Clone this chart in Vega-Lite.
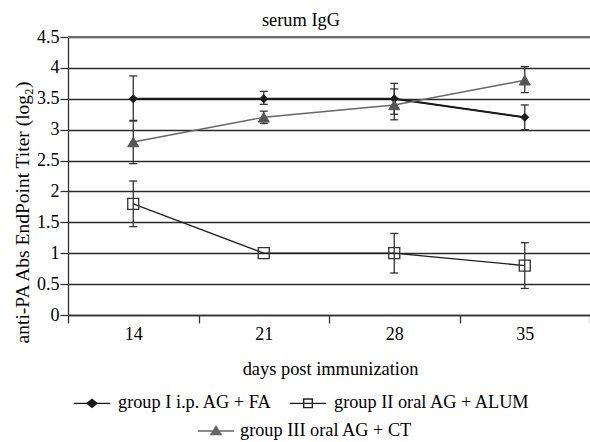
{
  "$schema": "https://vega.github.io/schema/vega-lite/v6.json",
  "width": 522,
  "height": 278,
  "autosize": {"type": "none"},
  "padding": {"left": 68, "top": 37, "right": 0, "bottom": 127},
  "background": "white",
  "config": {
    "view": {"stroke": null},
    "font": "Liberation Serif"
  },
  "title": {
    "text": "serum IgG",
    "font": "Liberation Serif",
    "fontSize": 18.4,
    "fontWeight": "normal",
    "color": "#000",
    "anchor": "middle",
    "frame": "group",
    "baseline": "alphabetic",
    "offset": 12,
    "dx": -28,
    "dy": 28
  },
  "data": {
    "values": [
      {"group": "group I i.p. AG + FA", "day": "14", "value": 3.5, "lo": 3.15, "hi": 3.87},
      {"group": "group I i.p. AG + FA", "day": "21", "value": 3.5, "lo": 3.41, "hi": 3.62},
      {"group": "group I i.p. AG + FA", "day": "28", "value": 3.5, "lo": 3.25, "hi": 3.75},
      {"group": "group I i.p. AG + FA", "day": "35", "value": 3.2, "lo": 3.0, "hi": 3.4},
      {"group": "group II oral AG + ALUM", "day": "14", "value": 1.8, "lo": 1.43, "hi": 2.17},
      {"group": "group II oral AG + ALUM", "day": "21", "value": 1.0, "lo": null, "hi": null},
      {"group": "group II oral AG + ALUM", "day": "28", "value": 1.0, "lo": 0.68, "hi": 1.32},
      {"group": "group II oral AG + ALUM", "day": "35", "value": 0.8, "lo": 0.43, "hi": 1.17},
      {"group": "group III oral AG + CT", "day": "14", "value": 2.8, "lo": 2.45, "hi": 3.14},
      {"group": "group III oral AG + CT", "day": "21", "value": 3.2, "lo": 3.1, "hi": 3.3},
      {"group": "group III oral AG + CT", "day": "28", "value": 3.4, "lo": 3.16, "hi": 3.66},
      {"group": "group III oral AG + CT", "day": "35", "value": 3.8, "lo": 3.6, "hi": 4.02}
    ]
  },
  "encoding": {
    "x": {
      "field": "day",
      "type": "ordinal",
      "scale": {"type": "band", "paddingInner": 0, "paddingOuter": 0},
      "axis": {
        "title": "days post immunization",
        "labelAngle": 0,
        "tickBand": "extent",
        "domainColor": "#333",
        "domainWidth": 1.3,
        "tickColor": "#333",
        "tickWidth": 1.3,
        "tickSize": 8,
        "labelFont": "Liberation Serif",
        "labelFontSize": 18,
        "labelColor": "#000",
        "labelPadding": 2,
        "titleFont": "Liberation Serif",
        "titleFontSize": 18.4,
        "titleFontWeight": "normal",
        "titleColor": "#000",
        "titleX": 262,
        "titleY": 53,
        "titleAlign": "center",
        "titleBaseline": "middle",
        "grid": false
      }
    },
    "y": {
      "field": "value",
      "type": "quantitative",
      "scale": {"domain": [0, 4.5], "nice": false, "zero": true},
      "axis": {
        "title": "anti-PA Abs EndPoint Titer (log₂)",
        "values": [0, 0.5, 1, 1.5, 2, 2.5, 3, 3.5, 4, 4.5],
        "format": "~g",
        "grid": true,
        "gridColor": "#2a2a2a",
        "gridWidth": 1.3,
        "domainColor": "#333",
        "domainWidth": 1.3,
        "tickColor": "#333",
        "tickWidth": 1.3,
        "tickSize": 8,
        "labelFont": "Liberation Serif",
        "labelFontSize": 18,
        "labelColor": "#000",
        "labelPadding": 1,
        "titleFont": "Liberation Serif",
        "titleFontSize": 19.5,
        "titleFontWeight": "normal",
        "titleColor": "#000",
        "titleX": -46,
        "titleY": 175,
        "titleAngle": -90,
        "titleAlign": "center",
        "titleBaseline": "middle"
      }
    }
  },
  "layer": [
    {
      "mark": {"type": "rule", "color": "#6e6e6e", "strokeWidth": 2},
      "encoding": {"y": {"datum": 4.5}, "x": null}
    },
    {
      "transform": [{"filter": "datum.lo != null"}],
      "mark": {"type": "rule", "color": "#333", "strokeWidth": 1.3},
      "encoding": {
        "y": {"field": "lo", "type": "quantitative"},
        "y2": {"field": "hi"}
      }
    },
    {
      "transform": [{"filter": "datum.lo != null"}],
      "mark": {"type": "tick", "color": "#333", "size": 8, "thickness": 1.3, "opacity": 1},
      "encoding": {"y": {"field": "lo", "type": "quantitative"}}
    },
    {
      "transform": [{"filter": "datum.hi != null"}],
      "mark": {"type": "tick", "color": "#333", "size": 8, "thickness": 1.3, "opacity": 1},
      "encoding": {"y": {"field": "hi", "type": "quantitative"}}
    },
    {
      "transform": [{"filter": "datum.group !== 'group III oral AG + CT'"}],
      "mark": {"type": "line", "strokeWidth": 1.3},
      "encoding": {
        "color": {
          "field": "group",
          "type": "nominal",
          "scale": {"domain": ["group I i.p. AG + FA", "group II oral AG + ALUM"], "range": ["#1a1a1a", "#222222"]},
          "legend": {
            "orient": "none",
            "legendX": 5,
            "legendY": 347,
            "direction": "horizontal",
            "title": null,
            "labelFont": "Liberation Serif",
            "labelFontSize": 18.3,
            "labelColor": "#000",
            "labelOffset": 7,
            "labelLimit": 400,
            "columnPadding": 15,
            "symbolSize": 1296,
            "encode": {
              "symbols": {
                "update": {
                  "shape": {"signal": "datum.value === 'group I i.p. AG + FA' ? 'M-1,0H1M-0.28,0L0,-0.22L0.28,0L0,0.22ZM-0.17,0L0,-0.13L0.17,0L0,0.13ZM-0.07,0L0,-0.05L0.07,0L0,0.05Z' : 'M-1,0H1M-0.24,-0.24H0.24V0.24H-0.24Z'"},
                  "fill": {"signal": "datum.value === 'group I i.p. AG + FA' ? '#111111' : 'transparent'"},
                  "strokeWidth": {"value": 1.4},
                  "size": {"value": 1296},
                  "opacity": {"value": 1}
                }
              }
            }
          }
        }
      }
    },
    {
      "transform": [{"filter": "datum.group === 'group I i.p. AG + FA'"}],
      "mark": {"type": "line", "strokeWidth": 2, "color": "#1a1a1a"},
      "encoding": {}
    },
    {
      "transform": [{"filter": "datum.group === 'group III oral AG + CT'"}],
      "mark": {"type": "line", "strokeWidth": 1.4},
      "encoding": {
        "color": {
          "field": "group",
          "type": "nominal",
          "scale": {"domain": ["group III oral AG + CT"], "range": ["#666666"]},
          "legend": {
            "orient": "none",
            "legendX": 129,
            "legendY": 375,
            "title": null,
            "labelFont": "Liberation Serif",
            "labelFontSize": 18.3,
            "labelColor": "#000",
            "labelOffset": 5,
            "labelLimit": 400,
            "symbolSize": 1296,
            "encode": {
              "symbols": {
                "update": {
                  "shape": {"value": "M-1,0H1M-0.28,0.2L0,-0.26L0.28,0.2ZM-0.16,0.12L0,-0.12L0.16,0.12ZM-0.06,0.08L0,-0.02L0.06,0.08Z"},
                  "fill": {"value": "#555555"},
                  "strokeWidth": {"value": 1.4},
                  "size": {"value": 1296},
                  "opacity": {"value": 1}
                }
              }
            }
          }
        }
      }
    },
    {
      "transform": [{"filter": "datum.group === 'group I i.p. AG + FA'"}],
      "mark": {"type": "point", "shape": "diamond", "filled": true, "opacity": 1, "fill": "#1a1a1a", "stroke": "#1a1a1a", "strokeWidth": 1, "size": 64},
      "encoding": {}
    },
    {
      "transform": [{"filter": "datum.group === 'group II oral AG + ALUM'"}],
      "mark": {"type": "point", "shape": "square", "filled": false, "opacity": 1, "stroke": "#333", "strokeWidth": 1.3, "size": 121},
      "encoding": {}
    },
    {
      "transform": [{"filter": "datum.group === 'group III oral AG + CT'"}],
      "mark": {"type": "point", "shape": "triangle-up", "filled": true, "opacity": 1, "fill": "#555", "stroke": "#555", "strokeWidth": 1, "size": 121},
      "encoding": {}
    }
  ],
  "resolve": {"scale": {"color": "independent"}, "legend": {"color": "independent"}}
}
